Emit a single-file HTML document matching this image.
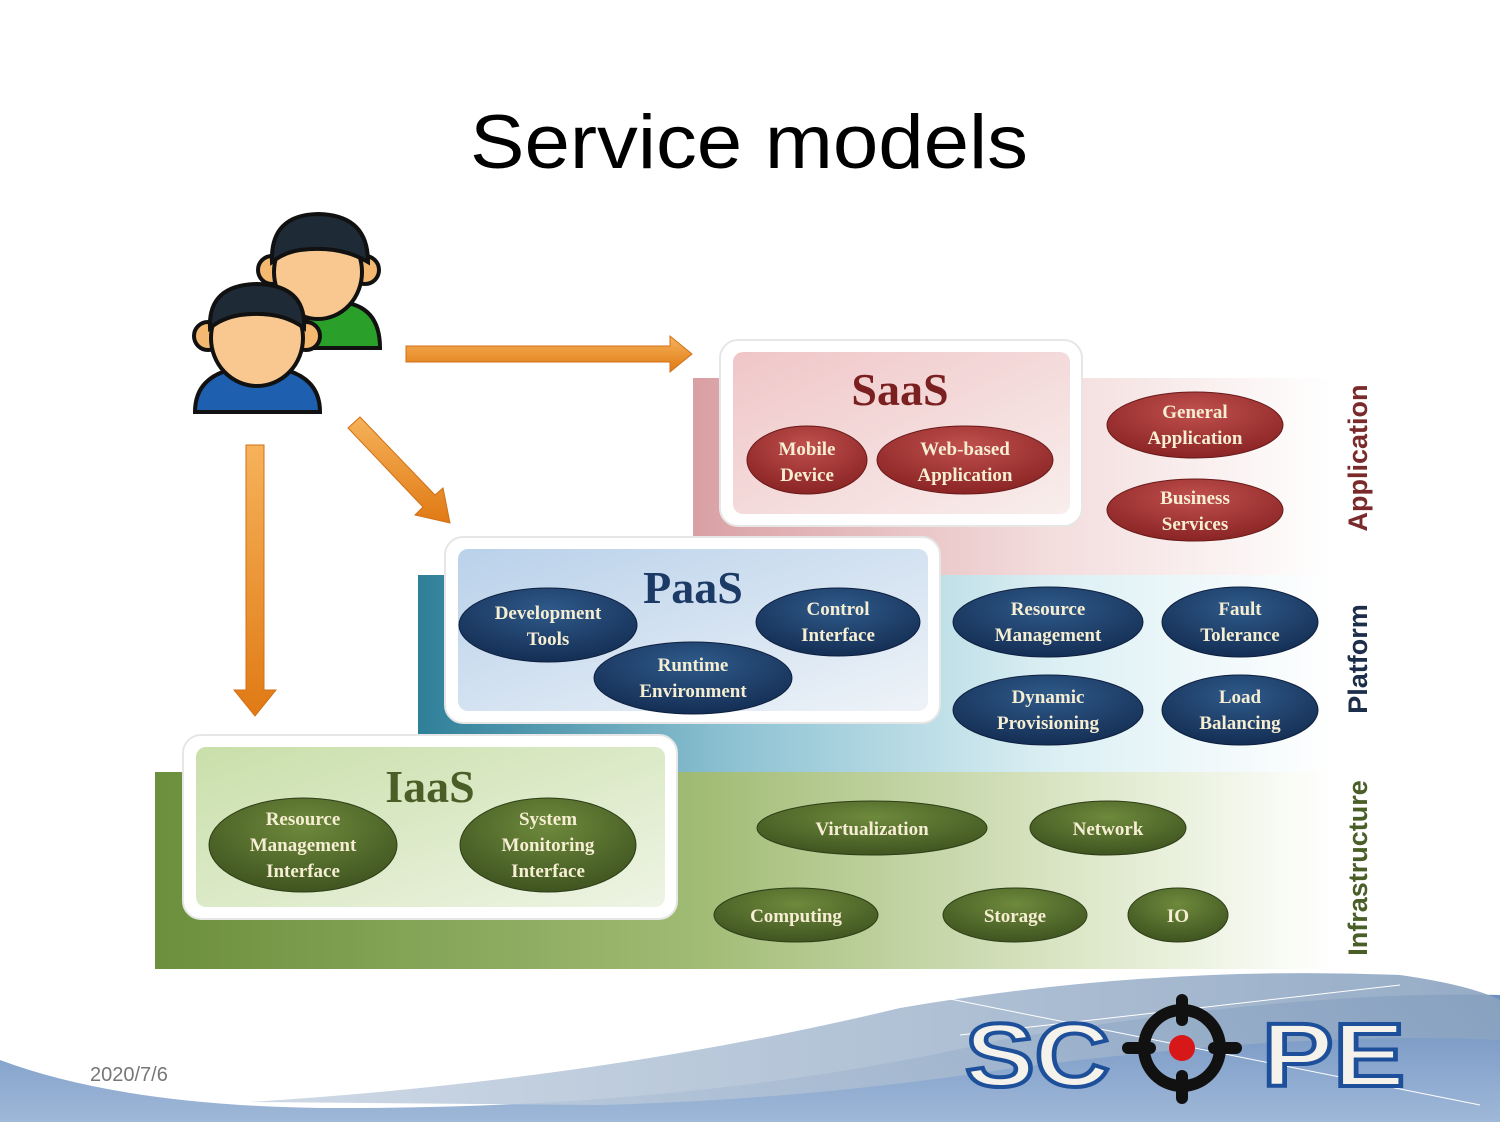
<!DOCTYPE html>
<html><head><meta charset="utf-8"><style>
html,body{margin:0;padding:0;background:#fff;width:1500px;height:1125px;overflow:hidden}
svg{display:block}
.e{font-family:"Liberation Serif",serif;font-weight:bold;font-size:19px;fill:#f6eed2;text-anchor:middle}
</style></head><body>
<svg width="1500" height="1125" viewBox="0 0 1500 1125" xmlns="http://www.w3.org/2000/svg">
<defs>
<linearGradient id="gs" x1="0" x2="1"><stop offset="0" stop-color="#d9a0a4"/><stop offset="0.55" stop-color="#f3dcdc"/><stop offset="1" stop-color="#fff"/></linearGradient>
<linearGradient id="gp" x1="0" x2="1"><stop offset="0" stop-color="#2f7f99"/><stop offset="0.35" stop-color="#8fc3d3"/><stop offset="0.7" stop-color="#dcf0f4"/><stop offset="1" stop-color="#fff"/></linearGradient>
<linearGradient id="gi" x1="0" x2="1"><stop offset="0" stop-color="#6b8f3c"/><stop offset="0.45" stop-color="#9fba72"/><stop offset="0.8" stop-color="#dfe9cc"/><stop offset="1" stop-color="#fff"/></linearGradient>
<linearGradient id="is" x1="0" y1="0" x2="1" y2="1"><stop offset="0" stop-color="#f0c6c8"/><stop offset="1" stop-color="#f8eeec"/></linearGradient>
<linearGradient id="ip" x1="0" y1="0" x2="1" y2="1"><stop offset="0" stop-color="#b9d1ea"/><stop offset="1" stop-color="#eef3f8"/></linearGradient>
<linearGradient id="ii" x1="0" y1="0" x2="1" y2="1"><stop offset="0" stop-color="#c9dfaa"/><stop offset="1" stop-color="#eef4e4"/></linearGradient>
<radialGradient id="er" cx="0.5" cy="0.3" r="0.7"><stop offset="0" stop-color="#c0504d"/><stop offset="1" stop-color="#8a2424"/></radialGradient>
<radialGradient id="eb" cx="0.5" cy="0.3" r="0.7"><stop offset="0" stop-color="#2f5a8a"/><stop offset="1" stop-color="#142e54"/></radialGradient>
<radialGradient id="eg" cx="0.5" cy="0.3" r="0.7"><stop offset="0" stop-color="#6e8a3c"/><stop offset="1" stop-color="#3f5420"/></radialGradient>
<linearGradient id="ar" x1="0" x2="0" y1="0" y2="1"><stop offset="0" stop-color="#f6b25a"/><stop offset="1" stop-color="#e07a14"/></linearGradient>
<linearGradient id="wv" x1="0" x2="0" y1="0" y2="1"><stop offset="0" stop-color="#6d8fbf"/><stop offset="1" stop-color="#9fb8d8"/></linearGradient>
<linearGradient id="wv2" x1="0" x2="1"><stop offset="0" stop-color="#c9d5e3"/><stop offset="1" stop-color="#8aa3c0"/></linearGradient>
</defs>

<text x="470" y="168" font-family="'Liberation Sans',sans-serif" font-size="76" fill="#000" textLength="558" lengthAdjust="spacingAndGlyphs">Service models</text>

<rect x="693" y="378" width="640" height="198" fill="url(#gs)"/>
<rect x="418" y="575" width="915" height="197" fill="url(#gp)"/>
<rect x="155" y="772" width="1178" height="197" fill="url(#gi)"/>

<rect x="720" y="340" width="362" height="186" rx="18" fill="#fff" stroke="#e6e6e6" stroke-width="2"/>
<rect x="733" y="352" width="337" height="162" rx="10" fill="url(#is)"/>
<rect x="445" y="537" width="495" height="186" rx="18" fill="#fff" stroke="#e6e6e6" stroke-width="2"/>
<rect x="458" y="549" width="470" height="162" rx="10" fill="url(#ip)"/>
<rect x="183" y="735" width="494" height="184" rx="18" fill="#fff" stroke="#e6e6e6" stroke-width="2"/>
<rect x="196" y="747" width="469" height="160" rx="10" fill="url(#ii)"/>

<text x="900" y="405" font-family="'Liberation Serif',serif" font-weight="bold" font-size="46" fill="#7a2020" text-anchor="middle">SaaS</text>
<text x="693" y="603" font-family="'Liberation Serif',serif" font-weight="bold" font-size="46" fill="#1c3a66" text-anchor="middle">PaaS</text>
<text x="430" y="802" font-family="'Liberation Serif',serif" font-weight="bold" font-size="46" fill="#4a5e28" text-anchor="middle">IaaS</text>

<text transform="translate(1367,458) rotate(-90)" font-family="'Liberation Sans',sans-serif" font-weight="bold" font-size="27" fill="#7a2a2a" text-anchor="middle">Application</text>
<text transform="translate(1367,659) rotate(-90)" font-family="'Liberation Sans',sans-serif" font-weight="bold" font-size="27" fill="#1c2e4a" text-anchor="middle">Platform</text>
<text transform="translate(1367,868) rotate(-90)" font-family="'Liberation Sans',sans-serif" font-weight="bold" font-size="27" fill="#4a5e28" text-anchor="middle">Infrastructure</text>

<g fill="url(#er)" stroke="#6a1a1a" stroke-width="1">
<ellipse cx="807" cy="460" rx="60" ry="34"/>
<ellipse cx="965" cy="460" rx="88" ry="34"/>
<ellipse cx="1195" cy="425" rx="88" ry="33"/>
<ellipse cx="1195" cy="510" rx="88" ry="31"/>
</g>
<text class="e" x="807" y="455">Mobile</text><text class="e" x="807" y="481">Device</text>
<text class="e" x="965" y="455">Web-based</text><text class="e" x="965" y="481">Application</text>
<text class="e" x="1195" y="418">General</text><text class="e" x="1195" y="444">Application</text>
<text class="e" x="1195" y="504">Business</text><text class="e" x="1195" y="530">Services</text>

<g fill="url(#eb)" stroke="#0e2040" stroke-width="1">
<ellipse cx="548" cy="625" rx="89" ry="37"/>
<ellipse cx="838" cy="622" rx="82" ry="34"/>
<ellipse cx="693" cy="678" rx="99" ry="36"/>
<ellipse cx="1048" cy="622" rx="95" ry="35"/>
<ellipse cx="1240" cy="622" rx="78" ry="35"/>
<ellipse cx="1048" cy="710" rx="95" ry="35"/>
<ellipse cx="1240" cy="710" rx="78" ry="35"/>
</g>
<text class="e" x="548" y="619">Development</text><text class="e" x="548" y="645">Tools</text>
<text class="e" x="838" y="615">Control</text><text class="e" x="838" y="641">Interface</text>
<text class="e" x="693" y="671">Runtime</text><text class="e" x="693" y="697">Environment</text>
<text class="e" x="1048" y="615">Resource</text><text class="e" x="1048" y="641">Management</text>
<text class="e" x="1240" y="615">Fault</text><text class="e" x="1240" y="641">Tolerance</text>
<text class="e" x="1048" y="703">Dynamic</text><text class="e" x="1048" y="729">Provisioning</text>
<text class="e" x="1240" y="703">Load</text><text class="e" x="1240" y="729">Balancing</text>

<g fill="url(#eg)" stroke="#2e3e16" stroke-width="1">
<ellipse cx="303" cy="845" rx="94" ry="47"/>
<ellipse cx="548" cy="845" rx="88" ry="47"/>
<ellipse cx="872" cy="828" rx="115" ry="27"/>
<ellipse cx="1108" cy="828" rx="78" ry="27"/>
<ellipse cx="796" cy="915" rx="82" ry="27"/>
<ellipse cx="1015" cy="915" rx="72" ry="27"/>
<ellipse cx="1178" cy="915" rx="50" ry="27"/>
</g>
<text class="e" x="303" y="825">Resource</text><text class="e" x="303" y="851">Management</text><text class="e" x="303" y="877">Interface</text>
<text class="e" x="548" y="825">System</text><text class="e" x="548" y="851">Monitoring</text><text class="e" x="548" y="877">Interface</text>
<text class="e" x="872" y="835">Virtualization</text>
<text class="e" x="1108" y="835">Network</text>
<text class="e" x="796" y="922">Computing</text>
<text class="e" x="1015" y="922">Storage</text>
<text class="e" x="1178" y="922">IO</text>

<g fill="url(#ar)" stroke="#d07018" stroke-width="1">
<polygon points="406,346 670,346 670,336 692,354 670,372 670,362 406,362"/>
<polygon points="246,445 264,445 264,690 276,690 255,716 234,690 246,690"/>
<polygon points="348,428 360,417 435,495 443,488 450,523 415,515 423,507"/>
</g>

<g stroke="#111" stroke-width="4">
<path d="M300,348 Q300,305 340,302 Q380,305 380,348 Z" fill="#2aa02a"/>
<circle cx="272" cy="270" r="14" fill="#f5b870"/>
<circle cx="365" cy="270" r="14" fill="#f5b870"/>
<ellipse cx="318" cy="272" rx="44" ry="47" fill="#f8c890"/>
<path d="M272,262 Q270,215 318,214 Q368,215 368,262 Q340,245 300,250 Q285,252 272,262 Z" fill="#1e2a36"/>
<path d="M195,412 Q195,368 257,366 Q320,368 320,412 Z" fill="#1f5fb0"/>
<circle cx="208" cy="336" r="14" fill="#f5b870"/>
<circle cx="306" cy="336" r="14" fill="#f5b870"/>
<ellipse cx="257" cy="338" rx="46" ry="48" fill="#f8c890"/>
<path d="M210,328 Q208,285 257,284 Q306,285 304,328 Q280,310 240,315 Q222,318 210,328 Z" fill="#1e2a36"/>
</g>

<path d="M0,1060 Q120,1105 320,1108 Q700,1110 1000,1040 Q1300,990 1500,995 L1500,1122 L0,1122 Z" fill="url(#wv)"/>
<path d="M250,1102 Q600,1080 900,1008 Q1150,965 1400,975 Q1470,985 1500,1000 L1500,1040 Q1300,1030 1000,1070 Q800,1100 600,1105 Z" fill="url(#wv2)" opacity="0.9"/>
<path d="M930,995 L1480,1105 M960,1035 L1400,985" stroke="#fff" stroke-width="1" fill="none"/>
<text x="90" y="1081" font-family="'Liberation Sans',sans-serif" font-size="20" fill="#777">2020/7/6</text>

<g font-family="'Liberation Sans',sans-serif" font-weight="bold" font-size="90" fill="#f4f2ea" stroke="#1d4f9a" stroke-width="4">
<text x="965" y="1086" textLength="145" lengthAdjust="spacingAndGlyphs">SC</text>
<text x="1262" y="1086" textLength="143" lengthAdjust="spacingAndGlyphs">PE</text>
</g>
<g fill="none" stroke="#111" stroke-width="12">
<circle cx="1182" cy="1048" r="38"/>
<line x1="1182" y1="1000" x2="1182" y2="1020" stroke-linecap="round"/>
<line x1="1182" y1="1076" x2="1182" y2="1098" stroke-linecap="round"/>
<line x1="1128" y1="1048" x2="1150" y2="1048" stroke-linecap="round"/>
<line x1="1214" y1="1048" x2="1236" y2="1048" stroke-linecap="round"/>
</g>
<circle cx="1182" cy="1048" r="13" fill="#d81818"/>
</svg>
</body></html>
